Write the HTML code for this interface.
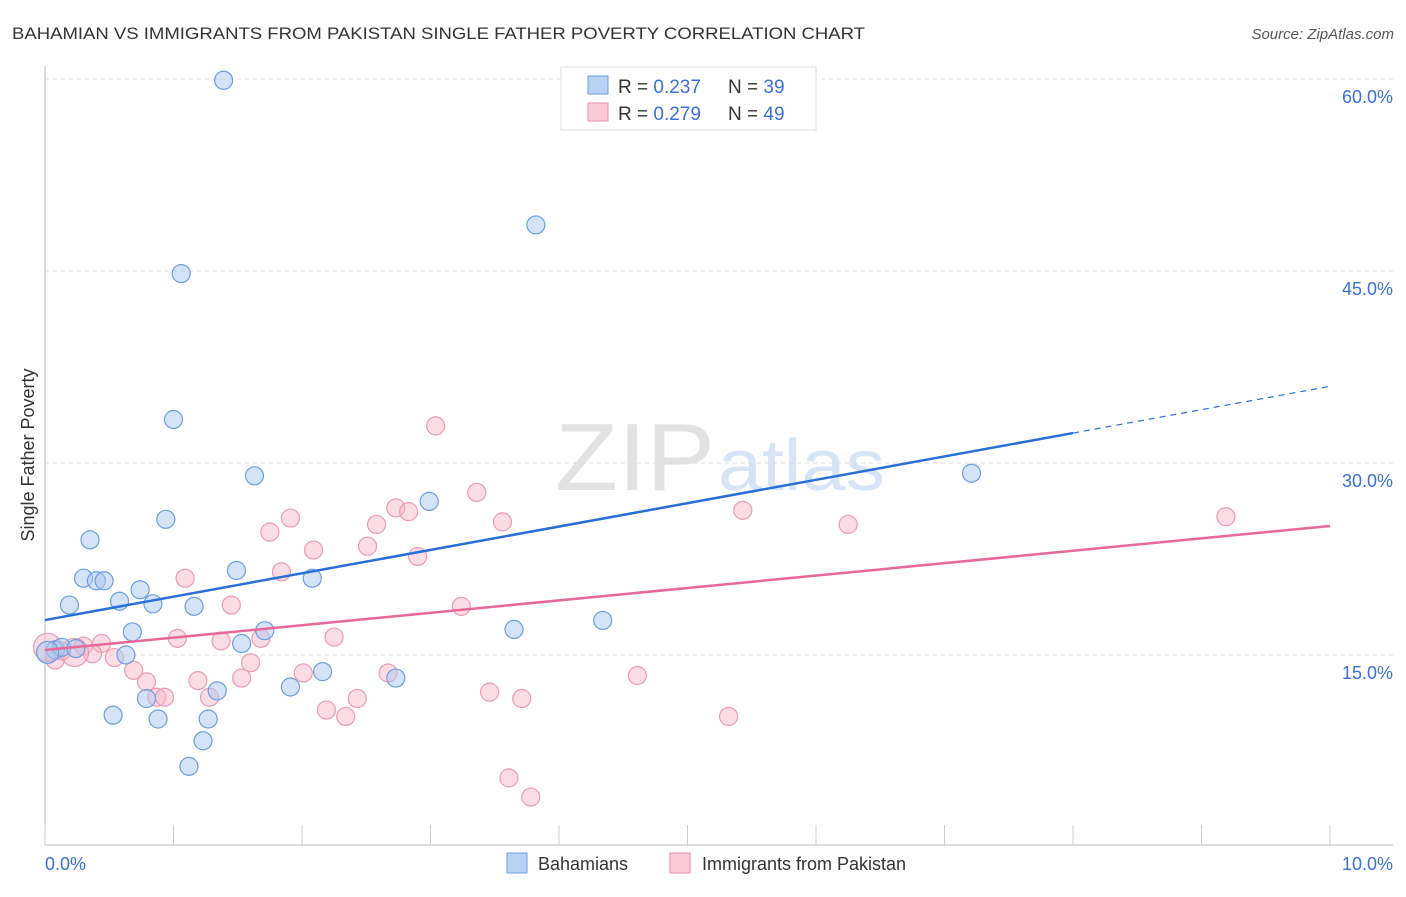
<!DOCTYPE html>
<html><head><meta charset="utf-8">
<style>
body{margin:0;background:#fff;font-family:"Liberation Sans",sans-serif;}
svg text{font-family:"Liberation Sans",sans-serif;}
</style></head>
<body>
<svg width="1406" height="892" viewBox="0 0 1406 892">
<text x="12" y="39" font-size="17" fill="#333" textLength="853" lengthAdjust="spacingAndGlyphs">BAHAMIAN VS IMMIGRANTS FROM PAKISTAN SINGLE FATHER POVERTY CORRELATION CHART</text>
<text x="1394" y="39" font-size="15" fill="#555" font-style="italic" text-anchor="end">Source: ZipAtlas.com</text>
<text x="555" y="490" font-size="96" fill="#e2e2e2" font-family="Liberation Serif" textLength="160" lengthAdjust="spacingAndGlyphs">ZIP</text>
<text x="718" y="490" font-size="72" fill="#d6e4f5" textLength="167" lengthAdjust="spacingAndGlyphs">atlas</text>
<g id="grid"></g>
<g id="axes"></g>
<g id="marks"></g>
<text x="34" y="455" font-size="18" fill="#333" transform="rotate(-90 34 455)" text-anchor="middle">Single Father Poverty</text>
<g>
<rect x="561" y="67" width="255" height="63" fill="#fff" stroke="#ddd"/>
<rect x="588" y="76" width="20" height="18" fill="#b8d2f4" stroke="#6d9de0"/>
<text x="618" y="93" font-size="19" fill="#333">R = <tspan fill="#3a6fd8">0.237</tspan></text>
<text x="728" y="93" font-size="19" fill="#333">N = <tspan fill="#3a6fd8">39</tspan></text>
<rect x="588" y="103" width="20" height="18" fill="#fbcad8" stroke="#e98fab"/>
<text x="618" y="120" font-size="19" fill="#333">R = <tspan fill="#3a6fd8">0.279</tspan></text>
<text x="728" y="120" font-size="19" fill="#333">N = <tspan fill="#3a6fd8">49</tspan></text>
</g>
<g>
<rect x="507" y="853" width="20" height="20" fill="#b8d2f4" stroke="#6d9de0"/>
<text x="538" y="870" font-size="18" fill="#333">Bahamians</text>
<rect x="670" y="853" width="20" height="20" fill="#fbcad8" stroke="#e98fab"/>
<text x="702" y="870" font-size="18" fill="#333">Immigrants from Pakistan</text>
</g>
</svg>
<script>
const xTicks=[0,1,2,3,4,5,6,7,8,9,10];
const yTicks=[15,30,45,60];
const yTickLabels=["15.0%","30.0%","45.0%","60.0%"];
const xTickLabels=["0.0%","10.0%"];
const blueX=[1.39,3.82,1.06,1.00,1.63,2.99,7.21,0.94,0.35,1.49,0.30,0.40,0.46,2.08,0.74,0.19,0.58,0.84,1.16,0.68,1.71,1.53,4.34,3.65,0.08,0.13,0.24,0.63,2.16,2.73,1.91,1.34,0.79,0.53,0.88,1.27,1.23,1.12,0.02];
const blueY=[59.9,48.6,44.8,33.4,29.0,27.0,29.2,25.6,24.0,21.6,21.0,20.8,20.8,21.0,20.1,18.9,19.2,19.0,18.8,16.8,16.9,15.9,17.7,17.0,15.4,15.6,15.5,15.0,13.7,13.2,12.5,12.2,11.6,10.3,10.0,10.0,8.3,6.3,15.2];
const pinkX=[3.04,3.36,1.91,2.73,2.83,2.58,3.56,5.43,6.25,9.19,1.75,2.09,2.51,2.90,1.09,1.84,1.45,3.24,1.03,1.37,2.25,1.68,0.44,0.30,0.13,0.08,0.37,0.54,1.60,0.69,2.01,2.67,4.61,0.79,1.19,1.53,3.46,0.87,0.93,1.28,2.43,3.71,2.19,2.34,5.32,3.61,3.78,0.02,0.23];
const pinkY=[32.9,27.7,25.7,26.5,26.2,25.2,25.4,26.3,25.2,25.8,24.6,23.2,23.5,22.7,21.0,21.5,18.9,18.8,16.3,16.1,16.4,16.3,15.9,15.7,15.3,14.6,15.1,14.8,14.4,13.8,13.6,13.6,13.4,12.9,13.0,13.2,12.1,11.7,11.7,11.7,11.6,11.6,10.7,10.2,10.2,5.4,3.9,15.6,15.2];
const blueTrend=[17.73,32.34];
const pinkTrend=[15.39,25.08];
const X=v=>45+v*128.5, Y=v=>847-v*12.8;
const NS="http://www.w3.org/2000/svg";
function mk(tag,attrs,parent){const e=document.createElementNS(NS,tag);for(const k in attrs)e.setAttribute(k,attrs[k]);parent.appendChild(e);return e;}
const grid=document.getElementById('grid'),axes=document.getElementById('axes'),marks=document.getElementById('marks');
yTicks.forEach((t,i)=>{
  const l=mk('line',{x1:45,x2:1393,y1:Y(t),y2:Y(t),stroke:'#ddd','stroke-dasharray':'4,4'},grid);
  
  
  const tx=mk('text',{x:1393,y:Y(t)+24,'font-size':18,fill:'#3a6fd8','text-anchor':'end'},axes);
  tx.textContent=yTickLabels[i];
  
  
});
const ax=mk('line',{x1:45,x2:1393,y1:845,y2:845,stroke:'#bbb'},axes);


const ay=mk('line',{x1:45,x2:45,y1:66,y2:845,stroke:'#bbb'},axes);


xTicks.forEach(t=>{
  const l=mk('line',{x1:X(t),x2:X(t),y1:825,y2:845,stroke:'#ccc'},axes);
  
  
});
[[0,'start'],[10,'end']].forEach((p,i)=>{
  const tx=mk('text',{x:i?1393:45,y:870,'font-size':18,fill:'#3a6fd8','text-anchor':p[1]},axes);
  tx.textContent=xTickLabels[i];
  
  
});
pinkX.forEach((x,i)=>{
  const r=i>=47?14:9;
  const c=mk('circle',{cx:X(x),cy:Y(pinkY[i]),r:r,fill:'rgba(248,180,200,0.45)',stroke:'#ec9ab3','stroke-width':1.2},marks);
  
  
});
blueX.forEach((x,i)=>{
  const r=i>=38?11:9;
  const c=mk('circle',{cx:X(x),cy:Y(blueY[i]),r:r,fill:'rgba(170,200,240,0.5)',stroke:'#6d9de0','stroke-width':1.2},marks);
  
  
});
const bs=(blueTrend[1]-blueTrend[0])/8;
const bl=mk('line',{x1:X(0),y1:Y(blueTrend[0]),x2:X(8),y2:Y(blueTrend[1]),stroke:'#2a6fd6','stroke-width':2.5},marks);


const bd=mk('line',{x1:X(8),y1:Y(blueTrend[1]),x2:X(10),y2:Y(blueTrend[0]+bs*10),stroke:'#2a6fd6','stroke-width':1.2,'stroke-dasharray':'6,5'},marks);


const pl=mk('line',{x1:X(0),y1:Y(pinkTrend[0]),x2:X(10),y2:Y(pinkTrend[1]),stroke:'#e8689a','stroke-width':2.5},marks);


</script>
</body></html>
